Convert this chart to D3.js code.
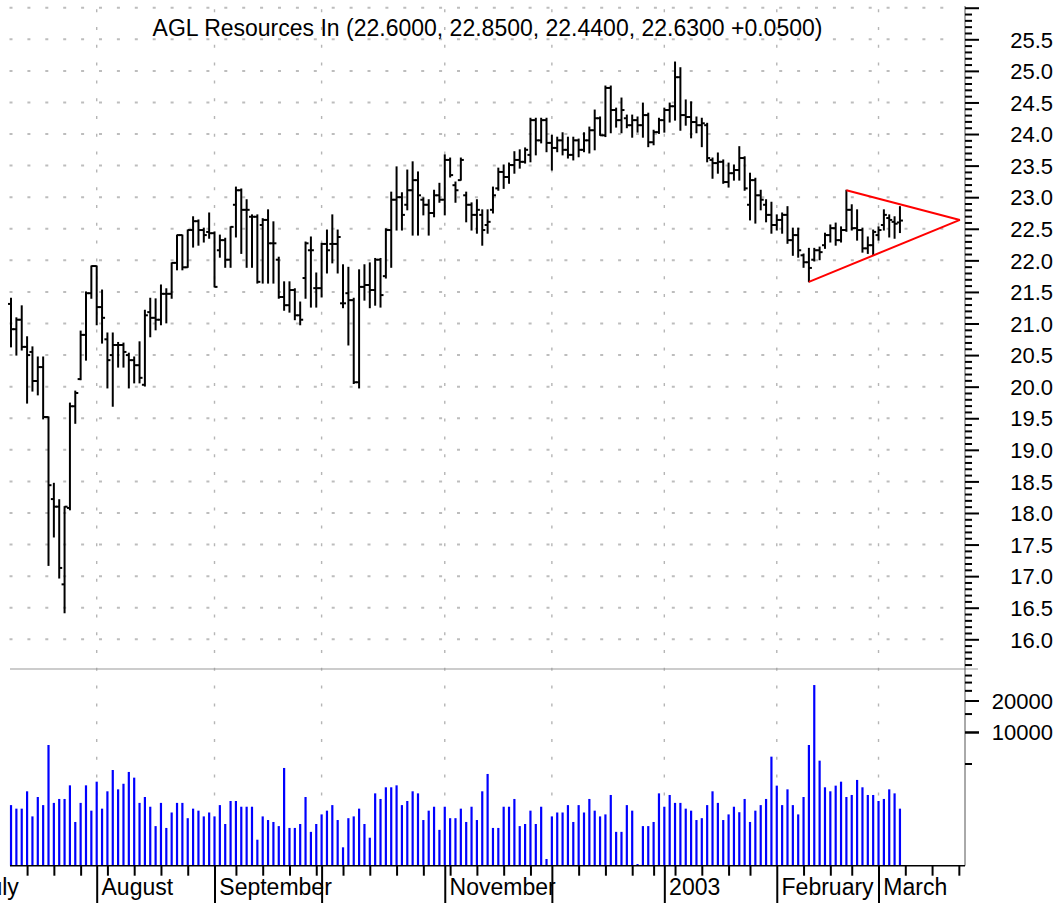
<!DOCTYPE html>
<html><head><meta charset="utf-8">
<script src="https://cdn.jsdelivr.net/npm/d3@7"></script>
<style>html,body{margin:0;padding:0;background:#fff;}svg{display:block;font-family:"Liberation Sans",Arial,Helvetica,sans-serif;}</style>
</head><body>
<svg id="chart" width="1063" height="903"></svg>
<script>
// ---------------- data ----------------
const symbolName = "AGL Resources In";
const firstBarDate = "2002-07-10";
const calendarStart = "2002-07-01";
const calendarEnd = "2003-03-31";
const holidays = ["2002-07-04","2002-09-02","2002-11-28","2002-12-25","2003-01-01","2003-01-20","2003-02-17"];

const opens = [
21.31,20.91,21.06,20.63,20.55,20.09,20.31,19.52,18.22,18.10,
16.87,18.08,19.69,20.12,20.82,21.48,21.91,21.26,20.75,20.50,
20.66,20.66,20.50,20.42,20.34,20.03,21.18,21.09,21.06,21.47,
21.47,21.96,22.40,21.89,22.48,22.62,22.48,22.45,22.43,22.16,
22.32,22.01,22.88,23.11,22.80,22.69,22.69,22.56,22.64,22.27,
22.01,21.42,21.29,21.53,21.13,21.72,22.16,21.56,21.56,22.26,
22.26,22.26,21.32,21.48,21.37,20.07,21.58,21.61,21.53,22.01,
21.75,22.48,22.96,23.00,22.88,23.11,23.27,22.96,22.88,22.75,
23.03,22.96,23.59,23.19,23.27,23.03,22.88,22.72,22.72,22.56,
22.80,23.14,23.40,23.32,23.51,23.59,23.56,23.67,24.22,23.90,
24.22,23.86,23.78,23.90,23.75,23.67,23.90,23.75,23.90,24.06,
24.25,23.98,24.73,24.38,24.22,24.25,24.14,24.22,24.14,24.30,
23.87,24.03,24.22,24.38,24.44,24.90,24.30,24.27,24.19,24.14,
24.14,23.59,23.54,23.56,23.24,23.38,23.43,23.62,22.88,23.27,
23.03,22.88,22.72,22.56,22.64,22.72,22.32,22.40,22.08,21.97,
22.01,22.16,22.24,22.40,22.51,22.32,22.48,22.80,22.51,22.48,
22.19,22.24,22.40,22.56,22.67,22.61,22.60];

const highs = [
21.40,21.09,21.28,20.79,20.63,20.47,20.47,19.52,18.47,18.21,
18.10,19.74,19.93,20.88,21.50,21.91,21.91,21.53,20.85,20.85,
20.70,20.69,20.53,20.47,20.71,21.21,21.40,21.39,21.61,21.55,
21.96,22.40,22.40,22.48,22.69,22.64,22.51,22.75,22.45,22.40,
22.35,22.53,23.16,23.13,22.96,22.72,22.72,22.66,22.80,22.61,
22.05,21.66,21.66,21.55,21.34,22.29,22.37,21.80,22.27,22.48,
22.72,22.48,21.93,21.89,21.40,21.85,21.93,21.96,22.03,22.03,
22.50,23.08,23.48,23.07,23.43,23.56,23.40,22.99,22.96,23.11,
23.22,23.67,23.62,23.24,23.62,23.08,22.91,22.96,22.80,22.80,
23.16,23.46,23.51,23.54,23.72,23.75,23.78,24.25,24.25,24.25,
24.25,23.98,23.95,24.02,23.95,23.95,23.92,24.02,24.11,24.38,
24.27,24.76,24.76,24.41,24.57,24.30,24.30,24.27,24.49,24.33,
24.06,24.25,24.41,24.49,25.14,25.05,24.54,24.51,24.27,24.25,
24.17,23.62,23.70,23.59,23.54,23.51,23.80,23.64,23.38,23.30,
23.11,22.96,22.92,22.72,22.75,22.85,22.51,22.51,22.10,22.19,
22.19,22.21,22.43,22.56,22.59,22.53,23.11,22.88,22.80,22.51,
22.37,22.48,22.53,22.80,22.72,22.69,22.85];

const lows = [
20.63,20.50,20.58,19.74,19.93,19.87,19.49,17.17,17.62,16.97,
16.42,18.05,19.42,20.11,20.42,21.40,20.98,20.69,19.98,19.69,
20.31,20.31,19.98,20.06,20.06,20.01,20.79,20.90,20.98,21.01,
21.40,21.85,21.85,21.89,22.21,22.24,22.29,22.35,21.58,22.05,
21.89,21.89,22.37,22.11,21.89,21.89,21.64,21.64,21.64,21.64,
21.40,21.21,21.18,21.06,20.98,21.40,21.26,21.26,21.42,21.80,
21.96,21.80,21.25,20.66,20.05,19.98,21.37,21.25,21.29,21.26,
21.72,21.89,22.48,22.48,22.80,22.40,22.40,22.72,22.40,22.69,
22.92,22.72,23.32,22.92,23.27,22.61,22.48,22.43,22.24,22.43,
22.75,23.11,23.14,23.22,23.38,23.46,23.54,23.56,23.67,23.86,
23.72,23.43,23.72,23.67,23.62,23.59,23.64,23.72,23.70,23.75,
23.98,23.96,24.02,24.11,24.02,24.10,23.95,24.03,23.95,23.80,
23.83,24.01,24.03,24.19,24.22,24.06,24.14,23.94,24.02,23.80,
23.56,23.30,23.38,23.22,23.16,23.27,23.27,23.11,22.64,22.59,
22.80,22.61,22.43,22.48,22.43,22.27,22.08,22.05,21.89,21.66,
21.99,22.01,22.19,22.29,22.24,22.29,22.46,22.48,22.32,22.13,
22.11,22.08,22.32,22.48,22.37,22.35,22.44];

const closes = [
20.91,21.06,20.63,20.50,20.09,20.31,19.52,18.44,18.10,17.13,
18.10,19.69,19.90,20.82,21.48,21.91,21.26,21.09,20.42,20.66,
20.66,20.55,20.42,20.34,20.14,21.13,21.09,21.06,21.47,21.47,
21.96,22.40,21.89,22.48,22.62,22.48,22.40,22.43,21.58,22.32,
22.01,22.53,23.11,22.80,22.80,22.69,21.66,22.64,22.27,22.27,
21.42,21.29,21.53,21.13,21.06,22.27,22.16,21.56,22.26,22.16,
22.26,22.37,21.32,21.37,20.07,21.58,21.61,21.53,22.01,21.45,
22.48,22.96,23.00,22.72,23.11,23.27,23.03,22.88,22.75,23.03,
22.96,23.59,23.35,23.11,23.59,22.88,22.72,22.80,22.48,22.61,
23.03,23.40,23.32,23.51,23.59,23.56,23.75,24.22,23.90,24.22,
23.86,23.78,23.90,23.75,23.67,23.90,23.75,23.90,24.06,24.25,
23.98,24.73,24.38,24.22,24.38,24.14,24.22,24.14,24.30,23.87,
24.03,24.22,24.38,24.44,24.90,24.30,24.27,24.19,24.14,24.17,
23.62,23.54,23.56,23.24,23.38,23.43,23.62,23.14,23.27,23.03,
22.96,22.72,22.56,22.64,22.72,22.32,22.40,22.16,21.97,21.88,
22.16,22.13,22.40,22.51,22.32,22.48,22.80,22.51,22.48,22.19,
22.24,22.45,22.48,22.72,22.64,22.58,22.63];

const volumes = [
2000,1850,1850,2710,1560,2390,2000,7510,2100,2290,
2290,3090,1380,2100,3090,1770,3350,1850,2710,4330,
2830,3200,4150,3660,2100,2390,1930,1260,2100,1210,
1700,2100,2100,1500,1850,1770,1560,1700,1560,2000,
1320,2190,2190,1930,1930,1930,934,1560,1440,1380,
1260,4530,1210,1210,1320,2390,1110,1320,1630,1770,
2000,1440,790,1500,1560,1850,1320,976,2590,2290,
2960,2960,3090,2000,2190,2710,2590,1440,1770,1930,
1160,1930,1500,1500,1850,1380,1930,1440,2710,3970,
1210,1210,1930,1930,2290,1260,1320,1770,1320,1930,
611,1560,1700,1700,2000,1380,2000,1700,2290,1770,
1560,1630,2500,1110,1110,2000,1770,547,1260,1260,
1380,2590,1930,2500,2100,2100,1850,1770,1440,1500,
2000,2710,2100,1440,1630,1930,1710,2290,1380,1770,
2000,2290,5810,3070,2000,2830,2000,1630,2390,7510,
28100,5320,2960,2710,3070,3350,2390,2500,3480,2960,
2500,2500,2190,2290,2830,2590,1850];

const monthLabels = {"2002-07":"July","2002-08":"August","2002-09":"September","2002-10":"",
  "2002-11":"November","2002-12":"","2003-01":"2003","2003-02":"February","2003-03":"March"};
const priceGrid = [16.0,16.5,17.0,17.5,18.0,18.5,19.0,19.5,20.0,20.5,21.0,21.5,22.0,22.5,23.0,23.5,24.0,24.5,25.0,25.5,26.0];
const priceLabels = [16.0,16.5,17.0,17.5,18.0,18.5,19.0,19.5,20.0,20.5,21.0,21.5,22.0,22.5,23.0,23.5,24.0,24.5,25.0,25.5];
const volumeTicks = [5000,10000,15000,20000,25000,30000,35000];
const volumeLabels = [10000,20000];
// triangle: [bar index, price]
const triangleLower = [[149,21.66],[177.2,22.64]];
const triangleUpper = [[156,23.11],[177.2,22.64]];

// ---------------- layout ----------------
const svg = d3.select("#chart");
const plotLeft = 10, axisX = 965, priceTop = 6, sepY = 669, baseY = 865.7;

const x = d3.scaleLinear().domain([0,178]).range([11.02,964.2]);
const yP = d3.scaleLinear().domain([16,25.5]).range([639.3,39.3]);
const yV = d3.scaleLog().domain([527,40000]).range([baseY,sepY]);

// trading day calendar
const iso = d => d.toISOString().slice(0,10);
const days = [];
for (let d = new Date(calendarStart+"T00:00:00Z"); d <= new Date(calendarEnd+"T00:00:00Z"); d = new Date(d.getTime()+864e5)) {
  const wd = d.getUTCDay();
  if (wd===0 || wd===6 || holidays.includes(iso(d))) continue;
  days.push(d);
}
const start = days.findIndex(d => iso(d)===firstBarDate);
const monthIdx = [], weekIdx = [];
days.forEach((d,k) => {
  const b = k - start;
  if (x(b) > axisX + 0.5) return;
  const prev = days[k-1];
  if (!prev || d.getUTCMonth()!==prev.getUTCMonth()) monthIdx.push(b);
  else if (d.getUTCDay() < prev.getUTCDay()) { if (x(b) >= plotLeft) weekIdx.push(b); }
});
const monthKey = b => iso(days[b+start]).slice(0,7);

// ---------------- grid ----------------
const grid = svg.append("g");
grid.selectAll("line.h").data(priceGrid).join("line")
  .attr("x1",9.5).attr("x2",958).attr("y1",d=>yP(d)).attr("y2",d=>yP(d))
  .attr("stroke","#bdbdbd").attr("stroke-width",2).attr("stroke-dasharray","3 14.9");
grid.selectAll("line.v").data(monthIdx.filter(b=>x(b)>plotLeft)).join("line")
  .attr("x1",d=>x(d)).attr("x2",d=>x(d)).attr("y1",9.2).attr("y2",798)
  .attr("stroke","#b5b5b5").attr("stroke-width",1.4).attr("stroke-dasharray","3 14.8");

// separator
svg.append("line").attr("x1",plotLeft).attr("x2",978).attr("y1",sepY).attr("y2",sepY)
  .attr("stroke","#999").attr("stroke-width",1);

// ---------------- title ----------------
const n = closes.length-1;
const chg = closes[n]-closes[n-1];
svg.append("text").attr("x",487.5).attr("y",36).attr("text-anchor","middle")
  .attr("font-size",23).attr("fill","#000")
  .text(`${symbolName} (${opens[n].toFixed(4)}, ${highs[n].toFixed(4)}, ${lows[n].toFixed(4)}, ${closes[n].toFixed(4)} ${chg>=0?"+":""}${chg.toFixed(4)})`);

// ---------------- volume bars ----------------
svg.append("g").selectAll("line").data(volumes).join("line")
  .attr("x1",(d,i)=>x(i)).attr("x2",(d,i)=>x(i))
  .attr("y1",baseY).attr("y2",d=>yV(d))
  .attr("stroke","#0000ff").attr("stroke-width",2.2);

// ---------------- OHLC bars ----------------
const bars = opens.map((o,i)=>({i,o,h:highs[i],l:lows[i],c:closes[i]}));
const gB = svg.append("g").attr("stroke","#000").attr("stroke-width",2);
gB.selectAll("line.hl").data(bars).join("line").attr("class","hl")
  .attr("x1",d=>x(d.i)).attr("x2",d=>x(d.i)).attr("y1",d=>yP(d.h)-0.5).attr("y2",d=>yP(d.l)+0.5);
gB.selectAll("line.op").data(bars).join("line").attr("class","op")
  .attr("x1",d=>x(d.i)-3).attr("x2",d=>x(d.i)).attr("y1",d=>yP(d.o)).attr("y2",d=>yP(d.o));
gB.selectAll("line.cl").data(bars).join("line").attr("class","cl")
  .attr("x1",d=>x(d.i)).attr("x2",d=>x(d.i)+3).attr("y1",d=>yP(d.c)).attr("y2",d=>yP(d.c));

// ---------------- triangle ----------------
const tl = d3.line().x(d=>x(d[0])).y(d=>yP(d[1]));
[triangleLower, triangleUpper].forEach(t =>
  svg.append("path").attr("d",tl(t)).attr("fill","none").attr("stroke","#ff0000").attr("stroke-width",2));

// ---------------- right axes ----------------
svg.append("line").attr("x1",axisX).attr("x2",axisX).attr("y1",priceTop).attr("y2",baseY)
  .attr("stroke","#555").attr("stroke-width",1);

function styleAxis(g){ g.select(".domain").remove(); g.selectAll(".tick line").attr("stroke","#000").attr("stroke-width",2); }

const minorP = d3.range(156,261).map(v=>v/10).filter(v=>Math.round(v*10)%5!==0);
svg.append("g").attr("transform",`translate(${axisX},0)`)
  .call(d3.axisRight(yP).tickValues(minorP).tickSize(7).tickFormat(""))
  .call(styleAxis);
svg.append("g").attr("transform",`translate(${axisX},0)`)
  .call(d3.axisRight(yP).tickValues(priceGrid).tickSize(14)
    .tickFormat(d=>priceLabels.includes(d)?d.toFixed(1):""))
  .call(styleAxis)
  .call(g=>g.selectAll(".tick text").attr("x",88).attr("text-anchor","end").attr("dy","0.35em")
     .attr("font-size",22).attr("font-family","Liberation Sans, Arial, sans-serif").attr("fill","#000"));

svg.append("g").attr("transform",`translate(${axisX},0)`)
  .call(d3.axisRight(yV).tickValues(volumeTicks).tickSize(7).tickFormat(""))
  .call(styleAxis)
  .call(g=>g.selectAll(".tick line").attr("x2",d=>volumeLabels.includes(d)?14:7));
svg.append("g").attr("transform",`translate(${axisX},0)`)
  .call(d3.axisRight(yV).tickValues(volumeLabels).tickSize(14).tickFormat(d3.format("d")))
  .call(styleAxis)
  .call(g=>g.selectAll(".tick text").attr("x",88).attr("text-anchor","end").attr("dy","0.35em")
     .attr("font-size",22).attr("font-family","Liberation Sans, Arial, sans-serif").attr("fill","#000"));

// ---------------- bottom axis ----------------
svg.append("line").attr("x1",plotLeft).attr("x2",axisX).attr("y1",baseY).attr("y2",baseY)
  .attr("stroke","#000").attr("stroke-width",1.5);
svg.append("g").attr("transform",`translate(0,${baseY})`)
  .call(d3.axisBottom(x).tickValues(weekIdx).tickSize(10).tickFormat(""))
  .call(styleAxis);
svg.append("g").attr("transform",`translate(0,${baseY})`)
  .call(d3.axisBottom(x).tickValues(monthIdx).tickSize(38).tickFormat(b=>monthLabels[monthKey(b)]||""))
  .call(styleAxis)
  .call(g=>g.selectAll(".tick text").attr("x",b=>x(b)<0?-1.5:4.3).attr("y",29.3).attr("dy",null)
     .attr("text-anchor","start").attr("font-size",23)
     .attr("font-family","Liberation Sans, Arial, sans-serif").attr("fill","#000"));
</script>
</body></html>
